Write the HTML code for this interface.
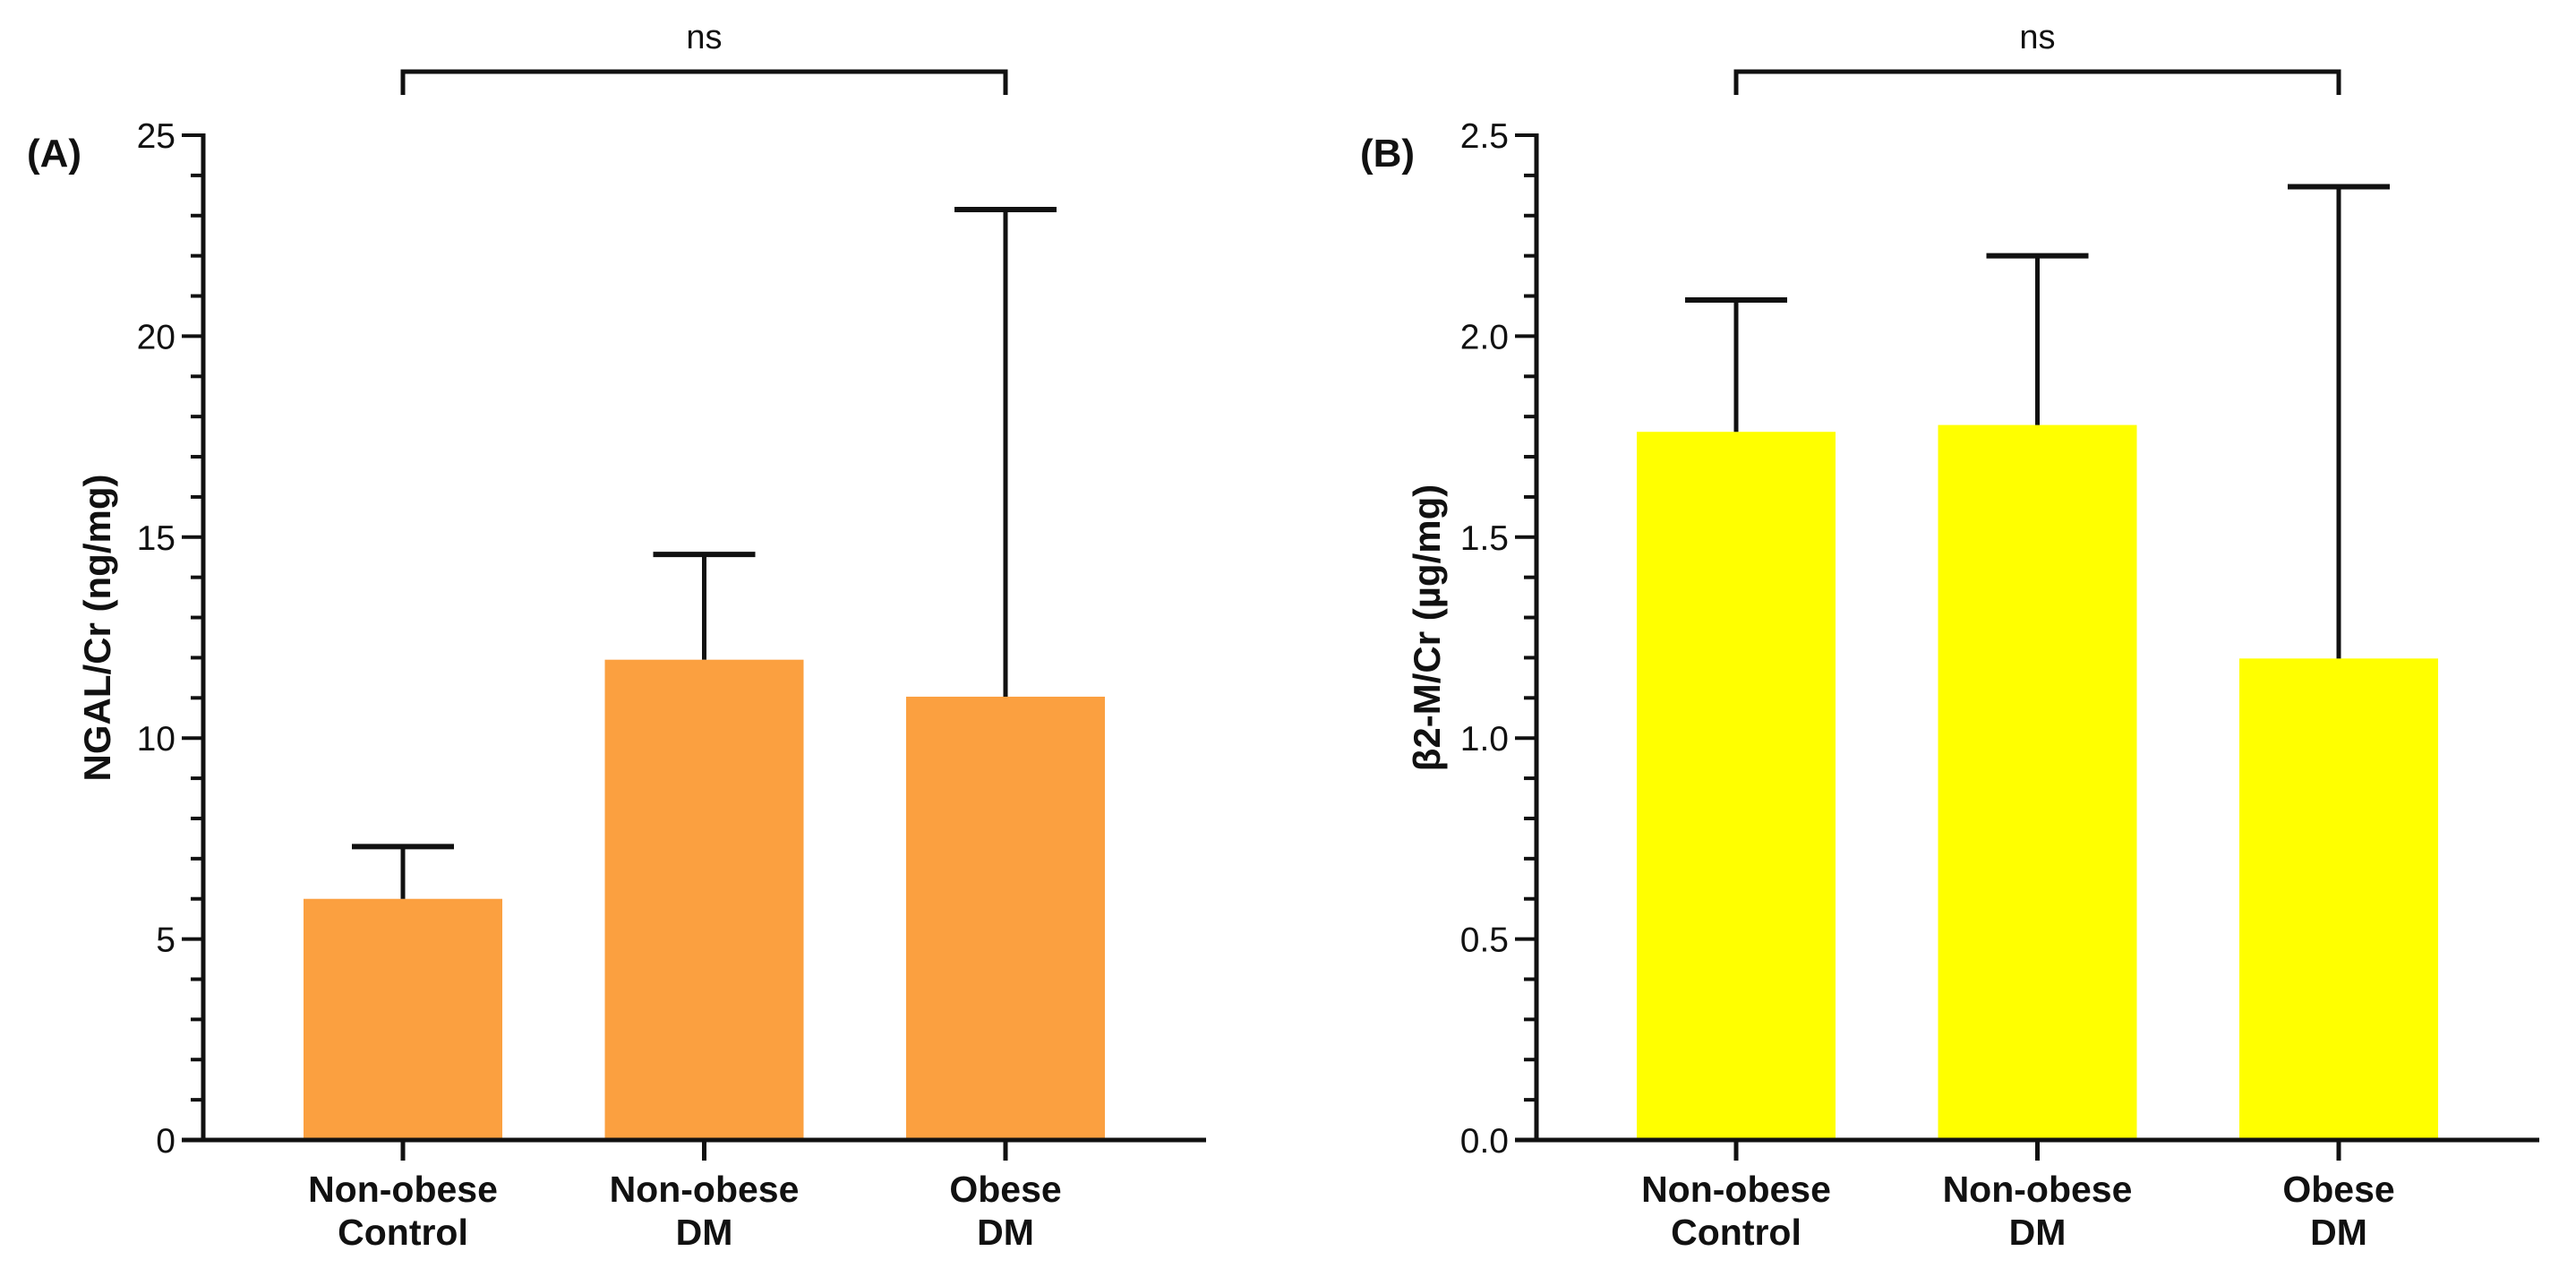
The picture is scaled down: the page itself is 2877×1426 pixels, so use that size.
<!DOCTYPE html>
<html><head><meta charset="utf-8"><style>
html,body{margin:0;padding:0;background:#fff;}
svg{display:block;}
text{font-family:"Liberation Sans",Arial,sans-serif;fill:#111;}
</style></head><body>
<svg id="chart" width="2877" height="1426" viewBox="0 0 2877 1426" xmlns="http://www.w3.org/2000/svg"></svg>
<script>
const categories = [["Non-obese","Control"],["Non-obese","DM"],["Obese","DM"]];
const ngalMeans = [6.0, 11.95, 11.03];
const ngalErrors = [7.3, 14.57, 23.15];
const ngalTicks = ["0","5","10","15","20","25"];
const b2mMeans = [1.762, 1.779, 1.198];
const b2mErrors = [2.09, 2.20, 2.372];
const b2mTicks = ["0.0","0.5","1.0","1.5","2.0","2.5"];

const NS = "http://www.w3.org/2000/svg";
const svg = document.getElementById('chart');
function el(tag, attrs, parent){
  const e = document.createElementNS(NS, tag);
  for (const k in attrs) e.setAttribute(k, attrs[k]);
  (parent||svg).appendChild(e);
  return e;
}

function panel(opt){
  const g = el('g', {});
  
  
  const ax = opt.axisX, y0 = 1273, yTop = 151, xEnd = opt.axisX + 1120;
  const yScale = v => y0 - (v / opt.max) * (y0 - yTop);
  const xCenter = i => opt.axisX + 223 + i * 336.5;
  const bw = 222;

  opt.means.forEach((m, i) => {
    const r = el('rect', {x: xCenter(i) - bw/2, y: yScale(m), width: bw, height: y0 - yScale(m), fill: opt.color}, g);
    
    
  });
  opt.errors.forEach((e, i) => {
    const eg = el('g', {stroke: '#111', 'stroke-width': 5, fill: 'none'}, g);
    
    
    el('line', {x1: xCenter(i), x2: xCenter(i), y1: yScale(opt.means[i]), y2: yScale(e)}, eg);
    el('line', {x1: xCenter(i) - 57, x2: xCenter(i) + 57, y1: yScale(e), y2: yScale(e), 'stroke-width': 6}, eg);
  });
  const axes = el('g', {stroke: '#111', 'stroke-width': 5}, g);
  
  
  el('line', {x1: ax, x2: ax, y1: yTop - 2, y2: y0 + 2}, axes);
  el('line', {x1: ax - 24, x2: xEnd, y1: y0, y2: y0}, axes);
  const nMinor = 25;
  for (let k = 0; k <= nMinor; k++) {
    const v = opt.max * k / nMinor;
    const major = k % 5 === 0;
    el('line', {x1: ax - (major ? 24 : 14), x2: ax, y1: yScale(v), y2: yScale(v), 'stroke-width': 4}, axes);
  }
  opt.ticks.forEach((t, k) => {
    const v = opt.max * k / (opt.ticks.length - 1);
    const tx = el('text', {x: ax - 31, y: yScale(v) + 14, 'font-size': 39, 'text-anchor': 'end'}, g);
    tx.textContent = t;
    
    
  });
  categories.forEach((c, i) => {
    el('line', {x1: xCenter(i), x2: xCenter(i), y1: y0, y2: y0 + 23}, axes);
    const tx = el('text', {x: xCenter(i), 'font-size': 41, 'font-weight': 'bold', 'text-anchor': 'middle'}, g);
    
    
    const t1 = el('tspan', {x: xCenter(i), y: 1342}, tx); t1.textContent = c[0];
    const t2 = el('tspan', {x: xCenter(i), y: 1390}, tx); t2.textContent = c[1];
  });
  const ty = el('text', {x: 0, y: 0, 'font-size': 42, 'font-weight': 'bold', 'text-anchor': 'middle', transform: `translate(${ax - opt.titleOff},701) rotate(-90)`}, g);
  ty.textContent = opt.ytitle;
  
  
  const pl = el('text', {x: ax - 197, y: 186, 'font-size': 44, 'font-weight': 'bold'}, g);
  pl.textContent = opt.label;
  
  
  const bg = el('g', {stroke: '#111', 'stroke-width': 5, fill: 'none'}, g);
  
  
  el('polyline', {points: `${xCenter(0)},106 ${xCenter(0)},80 ${xCenter(2)},80 ${xCenter(2)},106`}, bg);
  const ns = el('text', {x: (xCenter(0) + xCenter(2)) / 2, y: 54, 'font-size': 38, 'text-anchor': 'middle'}, g);
  ns.textContent = 'ns';
  
  
}

panel({name: 'panel-a-ngal', axisX: 227, max: 25, means: ngalMeans, errors: ngalErrors, ticks: ngalTicks, color: '#FBA040', ytitle: 'NGAL/Cr (ng/mg)', label: '(A)', titleOff: 104});
panel({name: 'panel-b-b2m', axisX: 1716, max: 2.5, means: b2mMeans, errors: b2mErrors, ticks: b2mTicks, color: '#FFFF00', ytitle: 'β2-M/Cr (µg/mg)', label: '(B)', titleOff: 108});
</script>
</body></html>
